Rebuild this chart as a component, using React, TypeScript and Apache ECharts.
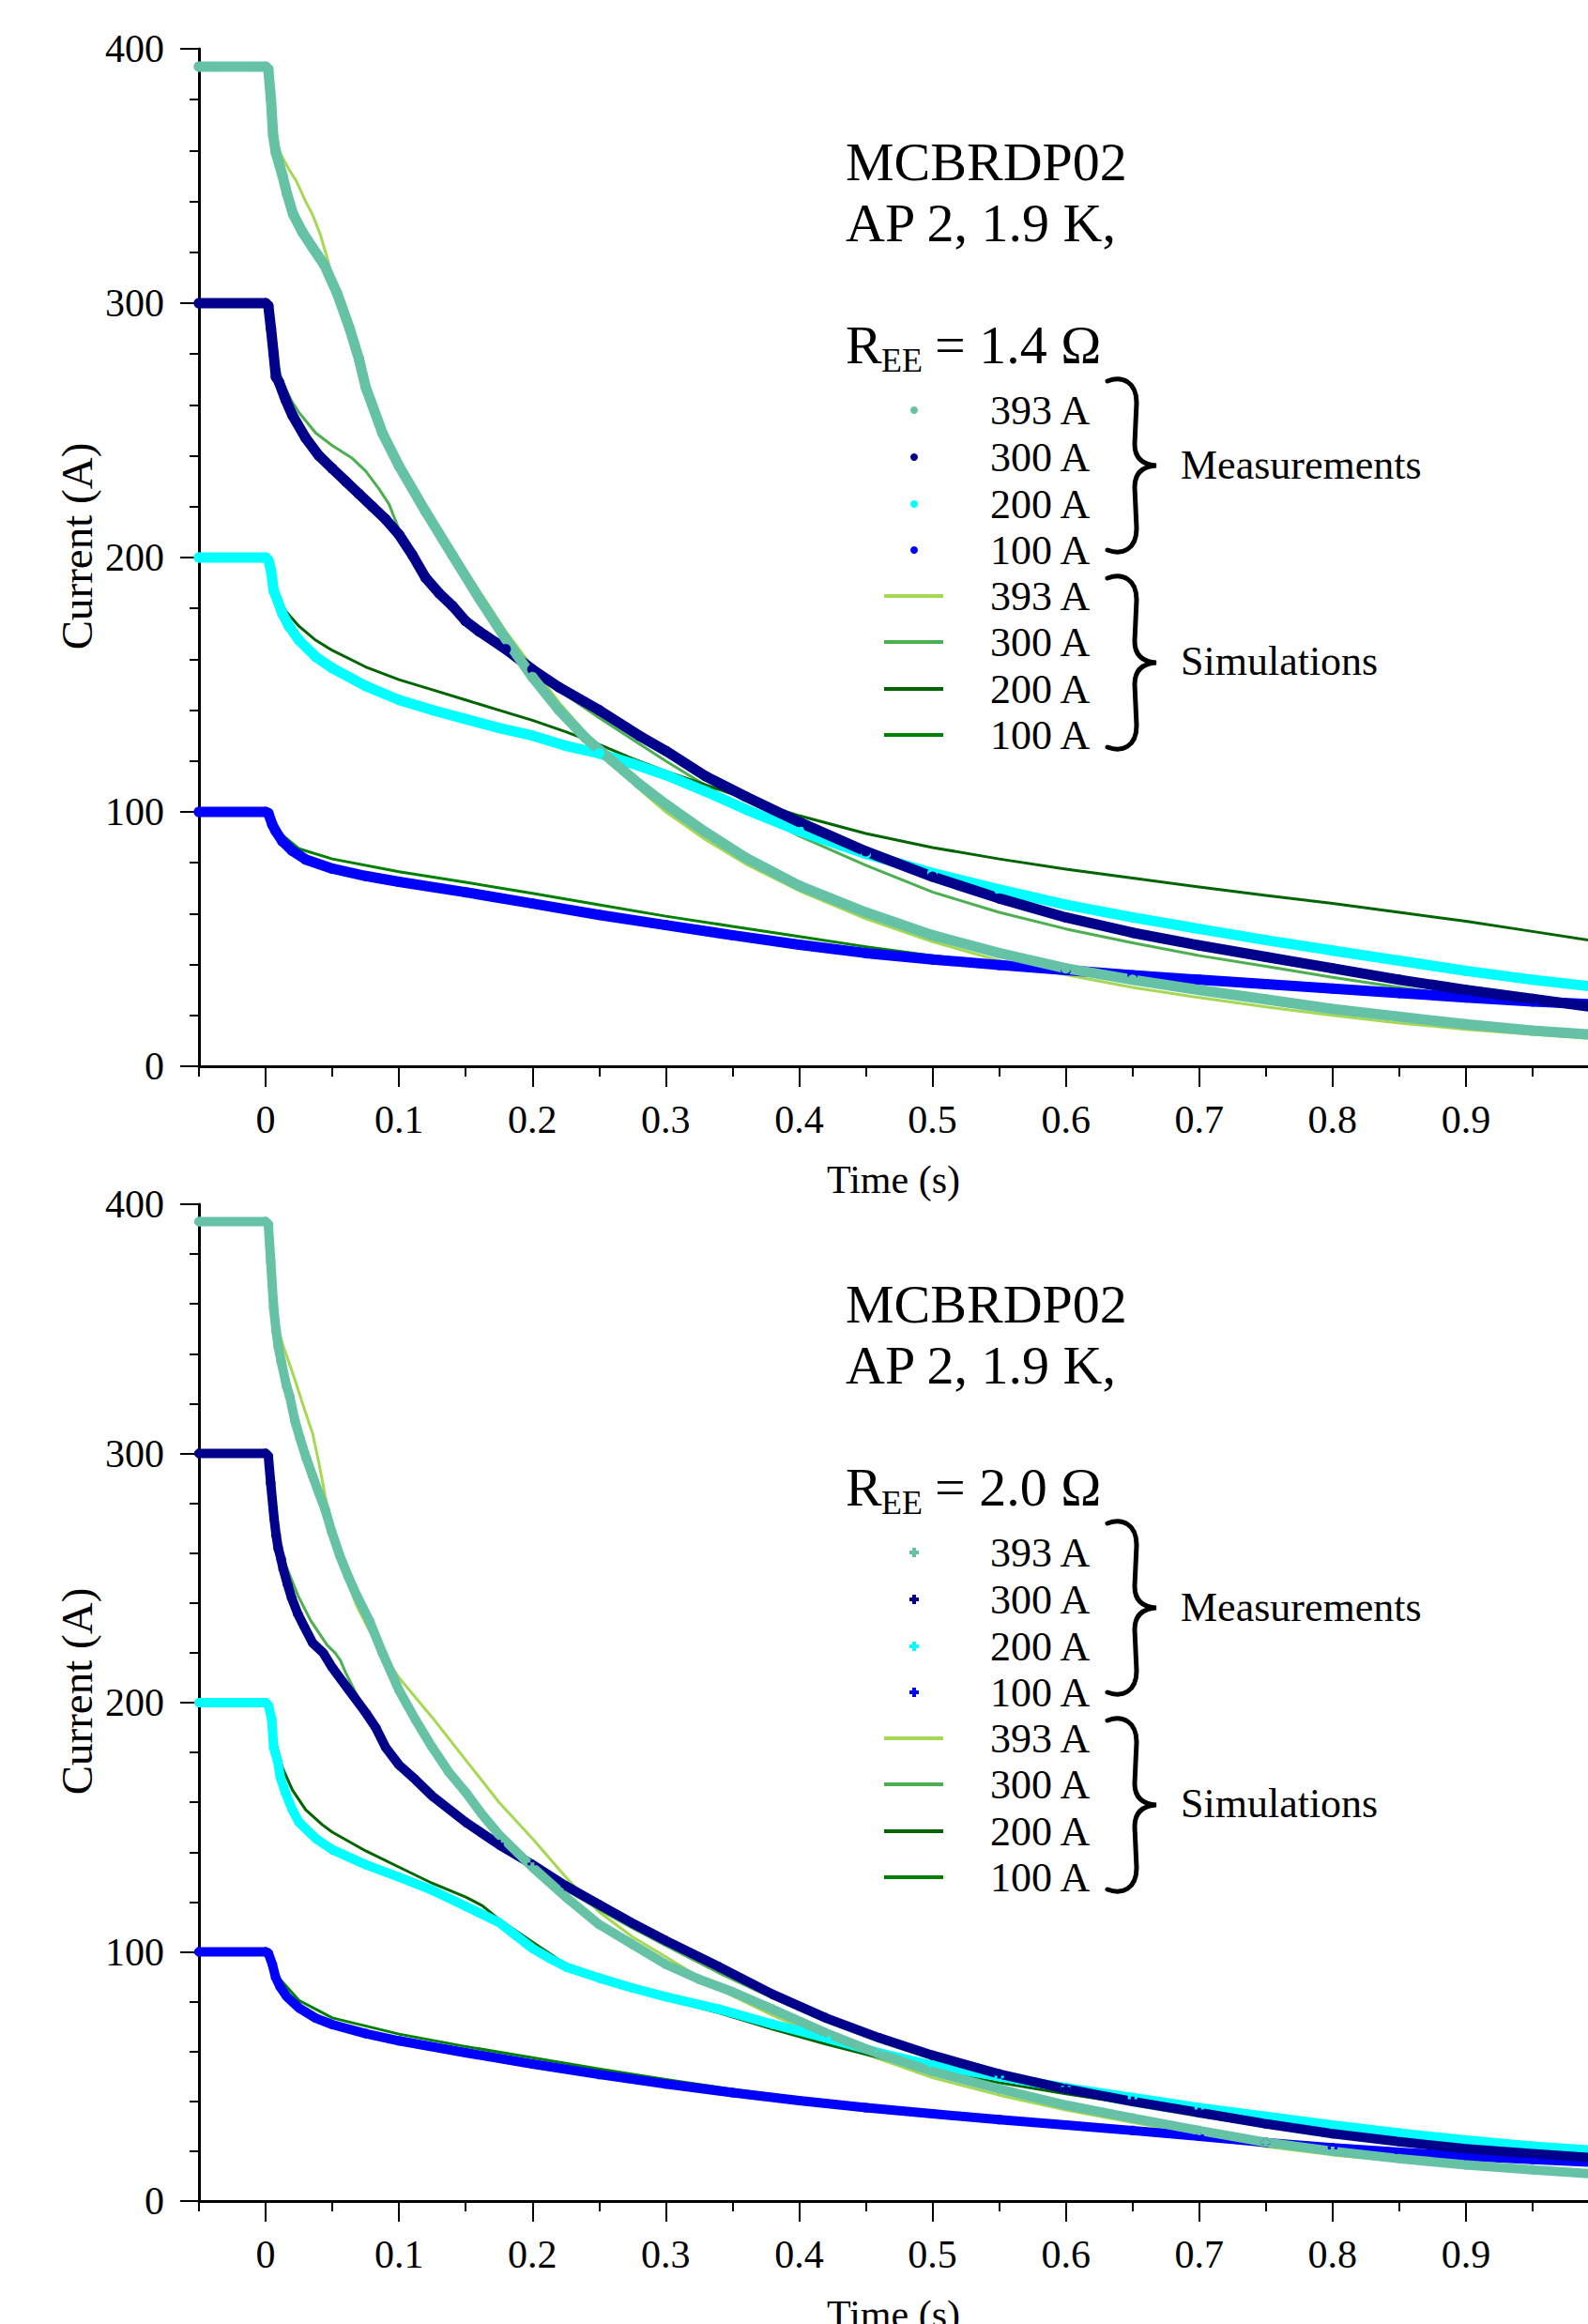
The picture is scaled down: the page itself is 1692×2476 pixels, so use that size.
import React, { useEffect, useRef } from "react";
import * as echarts from "echarts";

type Pt = [number, number];

const FONT = "'Liberation Serif', 'Times New Roman', Times, serif";

// ---- axes ----
const xMajorTicks = [0, 0.1, 0.2, 0.3, 0.4, 0.5, 0.6, 0.7, 0.8, 0.9];
const xMinorTicks = [-0.05, 0.05, 0.15, 0.25, 0.35, 0.45, 0.55, 0.65, 0.75, 0.85, 0.95];
const xMin = -0.05;
const xMax = 0.9915;
const yMin = 0;
const yMax = 400;
const yStep = 100;

// ---- legend / labels ----
const levelLabels = ["393 A", "300 A", "200 A", "100 A"];
const measColors = ["#66C2A5", "#00008B", "#00FFFF", "#0000FF"];
const simColors = ["#A6D854", "#4CAF50", "#006400", "#008000"];
const titleLines = ["MCBRDP02", "AP 2, 1.9 K,"];
const resistanceLabels = ["= 1.4 Ω", "= 2.0 Ω"];
const xAxisTitle = "Time (s)";
const yAxisTitle = "Current (A)";

// ---- data: R_EE = 1.4 Ω (time s, current A) ----
const r14Meas393: Pt[] = [[-0.05,393],[0,393],[0.002,392],[0.004,380],[0.0056,366],[0.0077,359],[0.01,355],[0.0127,350],[0.016,343],[0.0206,335],[0.0275,328],[0.035,322],[0.044,315],[0.0535,304],[0.063,290],[0.07,278],[0.075,267],[0.0875,249],[0.1,236],[0.12,218],[0.14,201],[0.16,184],[0.18,168],[0.2,153],[0.22,140],[0.24,129],[0.26,120],[0.28,111],[0.3,103],[0.33,92],[0.36,82],[0.4,71],[0.45,60.5],[0.5,51.5],[0.55,44.5],[0.6,38.5],[0.65,34],[0.7,30],[0.75,26.3],[0.8,22.5],[0.85,19.5],[0.9,16.5],[0.95,14],[0.992,12.5]];
const r14Meas300: Pt[] = [[-0.05,300],[0,300],[0.002,299],[0.004,290],[0.006,280],[0.0077,271],[0.01,269],[0.015,262],[0.02,256],[0.03,247],[0.04,240],[0.05,235],[0.06,230],[0.07,225],[0.08,220],[0.09,215],[0.1,209],[0.11,201],[0.12,192],[0.13,186],[0.14,181],[0.15,175],[0.16,171],[0.18,164],[0.2,156],[0.22,149],[0.25,140],[0.28,130],[0.3,124],[0.33,114],[0.36,106],[0.4,96],[0.45,84.5],[0.5,74.5],[0.55,66],[0.6,58.5],[0.65,52.5],[0.7,47.5],[0.75,43],[0.8,38.5],[0.85,34],[0.9,30],[0.95,26.5],[0.992,23.5]];
const r14Meas200: Pt[] = [[-0.05,200],[0,200],[0.002,199],[0.004,195],[0.006,187],[0.009,183],[0.0125,178],[0.0175,173],[0.025,167.5],[0.0375,161],[0.05,156.5],[0.075,149.5],[0.1,144],[0.125,140],[0.15,136.5],[0.175,133],[0.2,130],[0.225,126],[0.25,123],[0.275,119],[0.3,114.5],[0.33,108],[0.36,101],[0.4,92.5],[0.45,83.5],[0.5,76],[0.55,69.5],[0.6,63.5],[0.65,58.5],[0.7,54],[0.75,49.6],[0.8,45.5],[0.85,41.5],[0.9,37.5],[0.95,34],[0.992,31.5]];
const r14Meas100: Pt[] = [[-0.05,100],[0,100],[0.002,99.5],[0.005,95],[0.0075,92.5],[0.0125,88.5],[0.02,84.7],[0.03,81.3],[0.05,77.7],[0.075,74.8],[0.1,72.5],[0.15,68.4],[0.2,64],[0.25,59.5],[0.3,55.5],[0.35,51.5],[0.4,47.8],[0.45,44.5],[0.5,42],[0.55,39.8],[0.6,37.8],[0.65,35.8],[0.7,34],[0.75,32.3],[0.8,30.5],[0.85,28.8],[0.9,27],[0.95,25.5],[0.992,24.4]];
const r14Sim393: Pt[] = [[-0.05,393],[0,393],[0.002,392],[0.004,379],[0.0065,367],[0.011,359],[0.017,353],[0.023,348],[0.03,340],[0.035,335],[0.041,327],[0.046,318],[0.051,308],[0.056,299],[0.065,284],[0.075,268],[0.085,255],[0.1,238],[0.12,220],[0.14,203],[0.16,187],[0.18,171],[0.2,157],[0.22,143],[0.24,131],[0.26,120],[0.28,109],[0.3,100],[0.33,89],[0.36,79.5],[0.4,69],[0.45,58],[0.5,49],[0.55,41.5],[0.6,36],[0.65,31],[0.7,27],[0.75,23.3],[0.8,20],[0.85,17],[0.9,14.5],[0.95,12.5],[0.992,11]];
const r14Sim300: Pt[] = [[-0.05,300],[0,300],[0.002,298],[0.004,288],[0.008,278],[0.0125,269],[0.02,261],[0.025,257],[0.0375,249],[0.05,244],[0.065,239],[0.075,234],[0.085,227],[0.0925,221],[0.1,211],[0.11,201],[0.12,193],[0.14,181],[0.16,171],[0.18,163],[0.2,155],[0.25,137],[0.3,120],[0.35,104],[0.4,90.5],[0.45,79],[0.5,68.5],[0.55,60.5],[0.6,54],[0.65,48.5],[0.7,43.5],[0.75,39.3],[0.8,35],[0.85,31],[0.9,27.5],[0.95,25],[0.992,23]];
const r14Sim200: Pt[] = [[-0.05,200],[0,200],[0.002,199],[0.005,192],[0.0075,187],[0.01,184],[0.015,179],[0.025,173],[0.0375,167.5],[0.05,163.5],[0.075,157],[0.1,152],[0.125,148],[0.15,144],[0.175,140],[0.2,136],[0.225,131.5],[0.25,126.5],[0.275,121],[0.3,116],[0.35,107],[0.4,98.5],[0.45,91.5],[0.5,86],[0.55,81.5],[0.6,77.5],[0.65,74],[0.7,70.5],[0.75,67.2],[0.8,64],[0.85,60.5],[0.9,57],[0.95,53],[0.992,49.6]];
const r14Sim100: Pt[] = [[-0.05,100],[0,100],[0.002,99.5],[0.005,96],[0.01,92],[0.025,85.5],[0.05,81.5],[0.1,76.5],[0.15,72.3],[0.2,68],[0.25,63.5],[0.3,59],[0.35,55],[0.4,51],[0.45,47],[0.5,43.5],[0.55,40.5],[0.6,38],[0.7,34],[0.8,30.5],[0.9,27],[0.992,24.5]];

// ---- data: R_EE = 2.0 Ω ----
const r20Meas393: Pt[] = [[-0.05,393],[0,393],[0.002,392],[0.0038,377],[0.006,358.5],[0.0079,349],[0.0094,343],[0.0116,337],[0.0157,327],[0.018,323],[0.022,313],[0.0258,306],[0.0305,298],[0.0352,291],[0.04,284],[0.0446,277.5],[0.0493,269],[0.0556,259],[0.062,250.5],[0.0683,243],[0.0777,233],[0.0875,220],[0.1,205],[0.1125,193],[0.125,182],[0.1375,172],[0.15,164],[0.1625,155],[0.175,147],[0.2,134],[0.225,122],[0.25,111],[0.275,103],[0.3,95],[0.325,89],[0.35,84],[0.38,77],[0.42,67.5],[0.46,59],[0.5,52],[0.55,45],[0.6,38.5],[0.65,33.3],[0.7,28.3],[0.75,23.6],[0.8,20],[0.85,17],[0.9,14.5],[0.95,12.5],[0.992,11]];
const r20Meas300: Pt[] = [[-0.05,300],[0,300],[0.002,299],[0.0038,288],[0.0063,274],[0.0079,267],[0.0094,262],[0.0116,257.5],[0.0132,253.5],[0.0164,247.5],[0.0195,242],[0.0242,235.5],[0.0289,230.5],[0.0352,224],[0.0431,220],[0.05,214],[0.0625,205],[0.075,196],[0.0825,190],[0.09,182],[0.1,175],[0.1125,169],[0.125,162.5],[0.15,152],[0.175,143],[0.2,135],[0.225,126.5],[0.25,119],[0.275,111.5],[0.3,104.5],[0.34,94],[0.38,83],[0.42,73.5],[0.46,65.5],[0.5,58.5],[0.55,51],[0.6,45],[0.65,40],[0.7,35.5],[0.75,31],[0.8,27],[0.85,23.8],[0.9,21],[0.95,19],[0.992,17.5]];
const r20Meas200: Pt[] = [[-0.05,200],[0,200],[0.002,199],[0.0045,193.5],[0.006,182],[0.009,176.5],[0.011,170],[0.015,163.7],[0.02,157],[0.025,152],[0.0375,145.5],[0.05,141],[0.075,135],[0.1,130],[0.125,124.7],[0.15,118.3],[0.175,111.8],[0.1875,106.6],[0.2,101.4],[0.2125,97.5],[0.225,94],[0.25,89.5],[0.275,85.5],[0.3,82],[0.34,77],[0.38,71],[0.42,65.5],[0.46,59.5],[0.5,54.5],[0.55,50],[0.6,45.5],[0.65,41.5],[0.7,37.5],[0.75,34],[0.8,30.5],[0.85,27.3],[0.9,24.5],[0.95,22],[0.992,20.5]];
const r20Meas100: Pt[] = [[-0.05,100],[0,100],[0.002,99.5],[0.005,95],[0.0075,89.7],[0.011,85.8],[0.016,82],[0.025,77.5],[0.0375,73.4],[0.05,70.8],[0.075,67.2],[0.1,64.3],[0.15,59.5],[0.2,55],[0.25,50.8],[0.3,47],[0.35,43.5],[0.4,40.3],[0.45,37.5],[0.5,35],[0.55,32.7],[0.6,30.5],[0.65,28.3],[0.7,26],[0.75,23.5],[0.8,21.4],[0.85,19.6],[0.9,18],[0.95,16.7],[0.992,15.6]];
const r20Sim393: Pt[] = [[-0.05,393],[0,393],[0.002,391],[0.0038,371],[0.0069,356],[0.0116,346],[0.0132,343],[0.0211,331],[0.0289,318],[0.0352,308],[0.04,296],[0.0446,283],[0.0509,268],[0.0588,252],[0.0682,239],[0.0777,229],[0.0871,220],[0.1,210],[0.125,194],[0.15,177],[0.175,160],[0.2,145.5],[0.225,130],[0.25,116],[0.275,106],[0.3,98],[0.34,85],[0.38,74.5],[0.42,65],[0.46,57],[0.5,49.5],[0.55,42.5],[0.6,36.5],[0.65,31.5],[0.7,26.5],[0.75,21.8],[0.8,18.5],[0.85,16],[0.9,13.8],[0.95,11.8],[0.992,10.3]];
const r20Sim300: Pt[] = [[-0.05,300],[0,300],[0.002,298],[0.0054,273],[0.0101,264],[0.0148,255.5],[0.0242,243],[0.0337,233],[0.0462,223],[0.052,220],[0.056,217],[0.06,212],[0.0675,204],[0.075,197],[0.0825,190.5],[0.09,183],[0.1,176],[0.125,162.5],[0.15,152],[0.175,142.5],[0.2,134],[0.225,125],[0.25,117],[0.275,109.5],[0.3,102.5],[0.34,91.5],[0.38,81.5],[0.42,72],[0.46,64],[0.5,57],[0.55,49.5],[0.6,43.5],[0.65,38.5],[0.7,34],[0.75,30],[0.8,26.2],[0.85,23.2],[0.9,20.6],[0.95,18.7],[0.992,17.3]];
const r20Sim200: Pt[] = [[-0.05,200],[0,200],[0.002,199],[0.005,192],[0.0075,184],[0.0125,174],[0.02,165],[0.03,157],[0.0425,151],[0.05,148],[0.075,140.5],[0.1,134],[0.125,127.5],[0.15,122],[0.1625,118.5],[0.175,113],[0.2,104],[0.225,95],[0.25,89.5],[0.275,85],[0.3,81],[0.34,75.5],[0.38,69],[0.42,63],[0.46,57.5],[0.5,52.5],[0.55,47.5],[0.6,43],[0.65,39],[0.7,35.5],[0.75,32.5],[0.8,29],[0.85,26],[0.9,23.5],[0.95,21.3],[0.992,20]];
const r20Sim100: Pt[] = [[-0.05,100],[0,100],[0.002,99.5],[0.005,95.5],[0.01,89.5],[0.025,80.5],[0.05,73.5],[0.1,67],[0.15,62],[0.2,57.5],[0.25,53],[0.3,48.8],[0.35,44.8],[0.4,41.3],[0.5,35.5],[0.6,30.8],[0.7,26.3],[0.8,21.6],[0.9,18.1],[0.992,15.7]];

const panelMeas: Pt[][][] = [
  [r14Meas393, r14Meas300, r14Meas200, r14Meas100],
  [r20Meas393, r20Meas300, r20Meas200, r20Meas100],
];
const panelSim: Pt[][][] = [
  [r14Sim393, r14Sim300, r14Sim200, r14Sim100],
  [r20Sim393, r20Sim300, r20Sim200, r20Sim100],
];

// ---- layout (pixels) ----
const W = 1692;
const H = 2476;
const GRID_LEFT = 212;
const PANEL_TOP = [52, 1283];
const PANEL_H = [1084, 1062];
const LEGEND_DY = [0, 1217];
const BAND_W = [11, 10];

const BRACE_D =
  "M0,5 C16,-1 31,6 31,28 L29,72 C29,86 36,94 52,95 C36,96 29,104 29,118 L31,162 C31,184 16,191 0,185";
echarts.graphic.registerShape("brace", echarts.graphic.extendPath(BRACE_D, {}));

const PLUS_PATH = "path://M3,0 L7,0 L7,3 L10,3 L10,7 L7,7 L7,10 L3,10 L3,7 L0,7 L0,3 L3,3 Z";

const tickFmt = (v: number) => {
  const r = Math.round(v * 10) / 10;
  return r === 0 ? "0" : String(r);
};

function buildOption() {
  const grid: any[] = [];
  const xAxis: any[] = [];
  const yAxis: any[] = [];
  const series: any[] = [];
  const graphic: any[] = [];

  const axisFont = { fontFamily: FONT, fontSize: 42, color: "#000" };

  for (let p = 0; p < 2; p++) {
    grid.push({ left: GRID_LEFT, top: PANEL_TOP[p], width: W - GRID_LEFT, height: PANEL_H[p], outerBoundsMode: "none" });
  }
  for (let p = 0; p < 2; p++) {
    grid.push({ left: GRID_LEFT, top: PANEL_TOP[p], width: W - GRID_LEFT, height: PANEL_H[p], outerBoundsMode: "none" });
  }

  for (let p = 0; p < 2; p++) {
    xAxis.push({
      gridIndex: p,
      type: "value",
      min: xMin,
      max: xMax,
      position: "bottom",
      axisLine: { show: true, onZero: false, lineStyle: { color: "#000", width: 3 } },
      axisTick: { show: true, customValues: xMajorTicks, length: 22, lineStyle: { color: "#000", width: 2 } },
      axisLabel: { show: true, customValues: xMajorTicks, formatter: tickFmt, margin: 36, ...axisFont },
      splitLine: { show: false },
      name: xAxisTitle,
      nameLocation: "middle",
      nameGap: 100,
      nameTextStyle: { ...axisFont },
    });
    yAxis.push({
      gridIndex: p,
      type: "value",
      min: yMin,
      max: yMax,
      interval: yStep,
      axisLine: { show: true, onZero: false, lineStyle: { color: "#000", width: 3 } },
      axisTick: { show: true, length: 20, lineStyle: { color: "#000", width: 2 } },
      minorTick: { show: true, splitNumber: 5, length: 10, lineStyle: { color: "#000", width: 2 } },
      axisLabel: { margin: 37, ...axisFont },
      splitLine: { show: false },
      minorSplitLine: { show: false },
    });
  }
  for (let p = 0; p < 2; p++) {
    xAxis.push({
      gridIndex: 2 + p,
      type: "value",
      min: xMin,
      max: xMax,
      position: "bottom",
      axisLine: { show: false, onZero: false },
      axisTick: { show: true, customValues: xMinorTicks, length: 11, lineStyle: { color: "#000", width: 2 } },
      axisLabel: { show: false },
      splitLine: { show: false },
    });
    yAxis.push({ gridIndex: 2 + p, type: "value", min: 0, max: 1, show: false });
  }

  for (let p = 0; p < 2; p++) {
    const sym = p === 0 ? "circle" : PLUS_PATH;
    panelSim[p].forEach((d, i) => {
      series.push({
        type: "line",
        name: `Simulation ${levelLabels[i]}`,
        xAxisIndex: p,
        yAxisIndex: p,
        data: d,
        showSymbol: false,
        symbol: "none",
        z: 2,
        lineStyle: { color: simColors[i], width: 3, join: "round" },
        itemStyle: { color: simColors[i] },
      });
    });
    for (let i = 3; i >= 0; i--) {
      series.push({
        type: "line",
        name: `Measurement ${levelLabels[i]}`,
        xAxisIndex: p,
        yAxisIndex: p,
        data: panelMeas[p][i],
        showSymbol: true,
        symbol: sym,
        symbolSize: BAND_W[p],
        z: 3,
        lineStyle: { color: measColors[i], width: BAND_W[p], cap: "round", join: "round" },
        itemStyle: { color: measColors[i] },
      });
    }

    // y-axis title (drawn as text so it can be placed freely)
    const midY = PANEL_TOP[p] + PANEL_H[p] / 2 - 12;
    graphic.push({
      type: "text",
      x: 82,
      y: midY,
      rotation: Math.PI / 2,
      silent: true,
      style: { text: yAxisTitle, fontFamily: FONT, fontSize: 47, fill: "#000", align: "center", verticalAlign: "middle" },
    });

    // annotation block
    const dy = LEGEND_DY[p];
    const txt = (x: number, y: number, text: string, size: number) => ({
      type: "text",
      x,
      y,
      silent: true,
      style: { text, fontFamily: FONT, fontSize: size, fill: "#000", align: "left", verticalAlign: "middle" },
    });
    graphic.push(txt(901, 172 + dy, titleLines[0], 58));
    graphic.push(txt(901, 237 + dy, titleLines[1], 58));
    graphic.push(txt(901, 367 + dy, "R", 58));
    graphic.push(txt(939, 384 + dy, "EE", 36));
    graphic.push(txt(996, 367 + dy, resistanceLabels[p], 58));

    const rows = [437, 487, 537, 586, 635, 684, 734, 783];
    for (let i = 0; i < 4; i++) {
      const y = rows[i] + dy;
      if (p === 0) {
        graphic.push({ type: "circle", silent: true, shape: { cx: 974, cy: y, r: 4 }, style: { fill: measColors[i] } });
      } else {
        graphic.push({
          type: "polygon",
          silent: true,
          shape: { points: [[972, y - 5], [976, y - 5], [976, y - 2], [979, y - 2], [979, y + 2], [976, y + 2], [976, y + 5], [972, y + 5], [972, y + 2], [969, y + 2], [969, y - 2], [972, y - 2]] },
          style: { fill: measColors[i] },
        });
      }
      graphic.push(txt(1055, y, levelLabels[i], 44));
    }
    for (let i = 0; i < 4; i++) {
      const y = rows[4 + i] + dy;
      graphic.push({ type: "line", silent: true, shape: { x1: 942, y1: y, x2: 1005, y2: y }, style: { stroke: simColors[i], lineWidth: 4 } });
      graphic.push(txt(1055, y, levelLabels[i], 44));
    }
    graphic.push({ type: "brace", silent: true, x: 1180, y: 401 + dy, style: { stroke: "#000", lineWidth: 5, fill: "none", lineCap: "round" } });
    graphic.push({ type: "brace", silent: true, x: 1180, y: 611 + dy, style: { stroke: "#000", lineWidth: 5, fill: "none", lineCap: "round" } });
    graphic.push(txt(1258, 495 + dy, "Measurements", 44));
    graphic.push(txt(1258, 704 + dy, "Simulations", 44));
  }

  return {
    animation: false,
    backgroundColor: "#fff",
    grid,
    xAxis,
    yAxis,
    series,
    graphic: { elements: graphic },
  };
}

export default function App() {
  const ref = useRef<HTMLDivElement>(null);
  useEffect(() => {
    if (!ref.current) return;
    const chart = echarts.init(ref.current, undefined, { renderer: "svg" });
    chart.setOption(buildOption() as any);
    return () => chart.dispose();
  }, []);
  return <div ref={ref} style={{ position: "absolute", left: 0, top: 0, width: W, height: H }} />;
}
